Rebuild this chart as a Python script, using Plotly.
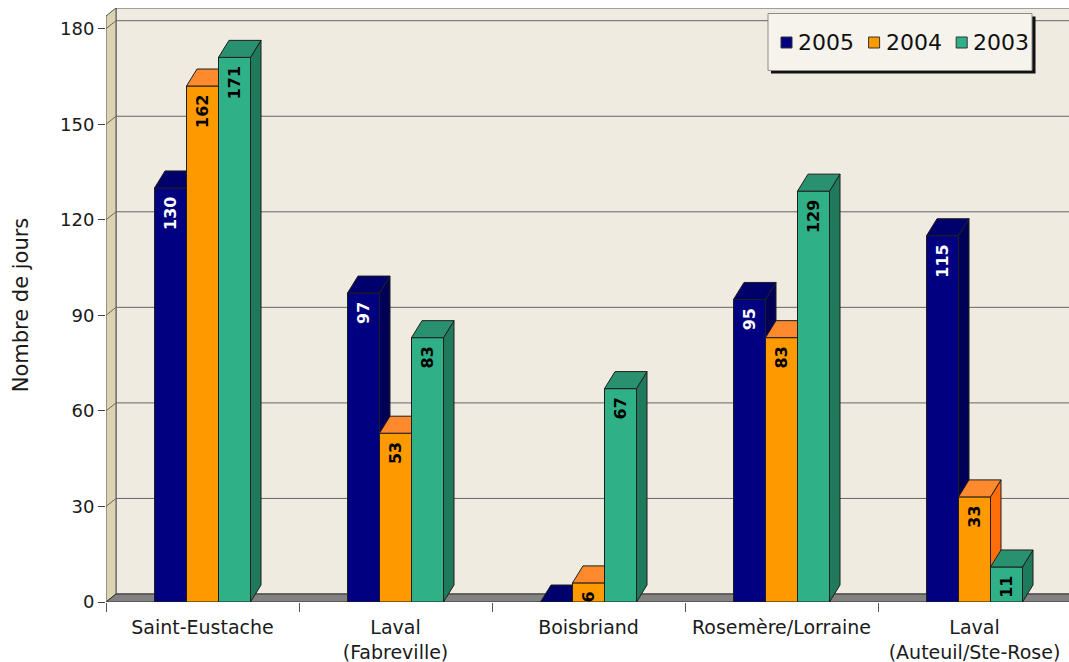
import plotly.graph_objects as go

# ---- data -------------------------------------------------------------
categories = [
    "Saint-Eustache",
    "Laval<br>(Fabreville)",
    "Boisbriand",
    "Rosemère/Lorraine",
    "Laval<br>(Auteuil/Ste-Rose)",
]
years = ["2005", "2004", "2003"]
jours_2005 = [130, 97, 0, 95, 115]
jours_2004 = [162, 53, 6, 83, 33]
jours_2003 = [171, 83, 67, 129, 11]
y_ticks = [0, 30, 60, 90, 120, 150, 180]

series = [jours_2005, jours_2004, jours_2003]

# ---- styling ----------------------------------------------------------
front_colors = ["#000080", "#ff9900", "#2fb087"]
top_colors = ["#00006c", "#ff8a2e", "#2a9170"]
side_colors = ["#000056", "#ff6e0a", "#1f7a5c"]
label_colors = ["white", "black", "black"]
edge = "#1e1e1e"
FONT = "DejaVu Sans"

W, H = 1069, 662
L, T, B = 106, 8, 60
plot_w = W - L
plot_h = H - T - B
px_per_cat = 193.0
X_MIN = -0.5
X_MAX = X_MIN + plot_w / px_per_cat
Y_MAX = 186.5
px_per_unit = plot_h / Y_MAX

bar_w = 32 / px_per_cat          # front face width of one bar
bar_dx = 10.5 / px_per_cat        # oblique depth of the bars
bar_dy = 17 / px_per_unit
wall_dx = 10 / px_per_cat         # depth of the walls / floor
wall_dy = 8 / px_per_unit


def px_x(px):
    return (px - L) / plot_w


def px_y(py):
    return (H - B - py) / plot_h


fig = go.Figure()

n = len(categories)
xs = list(range(n))

# one overlaid subplot per year so later years hide the earlier bars' sides
for k, (vals, year) in enumerate(zip(series, years)):
    ax = str(k + 2)
    offset = -1.5 * bar_w + k * bar_w
    texts = [f"{v}\u00a0" if v else "" for v in vals]
    fig.add_trace(go.Bar(
        x=xs, y=vals, name=year,
        width=bar_w, offset=offset,
        marker=dict(color=front_colors[k], line=dict(color=edge, width=1)),
        text=texts, textposition="inside", insidetextanchor="end",
        textangle=-90,
        textfont=dict(family=FONT, size=16, color=label_colors[k], weight="bold"),
        hoverinfo="skip", showlegend=False,
        xaxis="x" + ax, yaxis="y" + ax,
    ))
    top_x, top_y, side_x, side_y = [], [], [], []
    for i, v in enumerate(vals):
        xl = i + offset
        xr = xl + bar_w
        top_x += [xl, xr, xr + bar_dx, xl + bar_dx, xl, None]
        top_y += [v, v, v + bar_dy, v + bar_dy, v, None]
        if v > 0:
            side_x += [xr, xr + bar_dx, xr + bar_dx, xr, xr, None]
            side_y += [0, bar_dy, v + bar_dy, v, 0, None]
    fig.add_trace(go.Scatter(
        x=side_x, y=side_y, mode="lines", fill="toself",
        fillcolor=side_colors[k], line=dict(color=edge, width=1),
        hoverinfo="skip", showlegend=False,
        xaxis="x" + ax, yaxis="y" + ax,
    ))
    fig.add_trace(go.Scatter(
        x=top_x, y=top_y, mode="lines", fill="toself",
        fillcolor=top_colors[k], line=dict(color=edge, width=1),
        hoverinfo="skip", showlegend=False,
        xaxis="x" + ax, yaxis="y" + ax,
    ))

# ---- walls, floor and gridlines -----------------------------------------
shapes = []
bx = X_MIN + wall_dx
shapes.append(dict(type="rect", xref="x", yref="y", layer="below",
                   x0=bx, x1=X_MAX + 1, y0=wall_dy, y1=Y_MAX,
                   fillcolor="#efebe0", line=dict(color="#555555", width=1)))
shapes.append(dict(type="path", xref="x", yref="y", layer="below",
                   path=(f"M{X_MIN},0 L{X_MIN},{Y_MAX - wall_dy} "
                         f"L{bx},{Y_MAX} L{bx},{wall_dy} Z"),
                   fillcolor="#dcd3b3", line=dict(color="#555555", width=1)))
for v in y_ticks[1:]:
    shapes.append(dict(type="path", xref="x", yref="y", layer="below",
                       path=(f"M{X_MIN},{v} L{bx},{v + wall_dy} "
                             f"L{X_MAX + 1},{v + wall_dy}"),
                       line=dict(color="#666666", width=1)))
shapes.append(dict(type="path", xref="x", yref="y", layer="below",
                   path=(f"M{X_MIN},0 L{X_MAX + 1},0 L{X_MAX + 1},{wall_dy} "
                         f"L{bx},{wall_dy} Z"),
                   fillcolor="#828282", line=dict(color="#333333", width=1)))

# ---- legend box ---------------------------------------------------------
shapes.append(dict(type="rect", xref="paper", yref="paper", layer="above",
                   x0=px_x(771), x1=px_x(1035.5), y0=px_y(73.5), y1=px_y(16.5),
                   fillcolor="#111111", line=dict(width=0)))
shapes.append(dict(type="rect", xref="paper", yref="paper", layer="above",
                   x0=px_x(768), x1=px_x(1032), y0=px_y(70.5), y1=px_y(13.5),
                   fillcolor="#f5f3ec", line=dict(color="#8c8c8c", width=1)))
annotations = []
for k, year in enumerate(years):
    sx = 781 + 87.6 * k
    shapes.append(dict(type="rect", xref="paper", yref="paper", layer="above",
                       x0=px_x(sx), x1=px_x(sx + 11), y0=px_y(48), y1=px_y(37),
                       fillcolor=front_colors[k], line=dict(color="#333333", width=1)))
    annotations.append(dict(xref="paper", yref="paper", x=px_x(sx + 15),
                            y=px_y(42.5), xanchor="left", yanchor="middle",
                            text=year, showarrow=False,
                            font=dict(family=FONT, size=22, color="#111111")))

# ---- axes ---------------------------------------------------------------
axis_common = dict(showgrid=False, zeroline=False, showline=False, fixedrange=True)
layout = dict(
    width=W, height=H,
    margin=dict(l=L, r=0, t=T, b=B, pad=0),
    paper_bgcolor="white", plot_bgcolor="white",
    showlegend=False,
    uniformtext=dict(minsize=16, mode="show"),
    font=dict(family=FONT, color="#1a1a1a"),
    xaxis=dict(range=[X_MIN, X_MAX], tickvals=xs, ticktext=categories,
               ticks="", ticklabelstandoff=12,
               tickfont=dict(size=19, color="#1a1a1a"), **axis_common),
    yaxis=dict(range=[0, Y_MAX], tickvals=y_ticks, ticks="outside", ticklen=7,
               tickcolor="#444444", tickwidth=1,
               tickfont=dict(size=18, color="#1a1a1a"),
               title=dict(text="Nombre de jours", standoff=25,
                          font=dict(size=21, color="#1a1a1a")),
               **axis_common),
    shapes=shapes, annotations=annotations,
)
for k in range(3):
    ax = str(k + 2)
    layout["xaxis" + ax] = dict(range=[X_MIN, X_MAX], overlaying="x", anchor="y" + ax,
                                visible=(k == 0), showticklabels=False,
                                tickvals=[i - 0.5 for i in xs], ticks="outside",
                                ticklen=9, tickcolor="#555555", **axis_common)
    layout["yaxis" + ax] = dict(range=[0, Y_MAX], overlaying="y", anchor="x" + ax,
                                visible=False, **axis_common)

fig.update_layout(**layout)
fig.write_html("out.html")
